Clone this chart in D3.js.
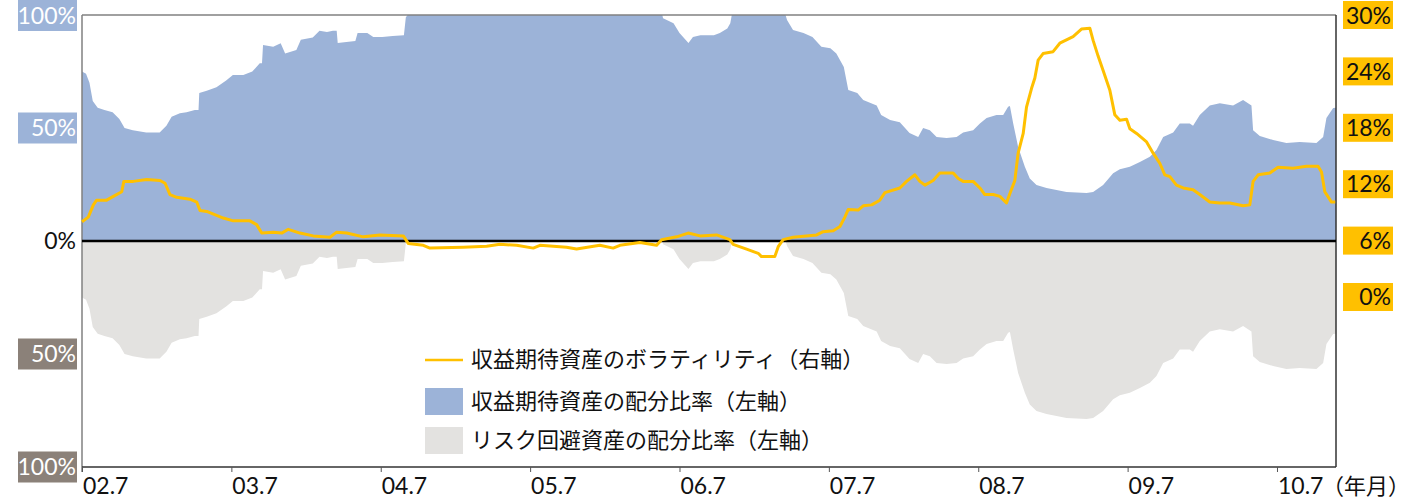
<!DOCTYPE html>
<html><head><meta charset="utf-8">
<script src="https://cdn.jsdelivr.net/npm/d3@7"></script>
<style>body{margin:0;background:#fff}svg{display:block}text{font-family:"Noto Sans CJK JP","Noto Sans",sans-serif}text.num{font-family:Lato,"Noto Sans",sans-serif}</style>
</head><body><svg id="c" width="1427" height="500"></svg>
<script>
// ---- data ----
const allocYears = [2002.500,2002.527,2002.550,2002.572,2002.605,2002.650,2002.705,2002.750,2002.785,2002.840,2002.930,2003.020,2003.065,2003.100,2003.155,2003.200,2003.255,2003.280,2003.285,2003.335,2003.400,2003.465,2003.510,2003.580,2003.640,2003.690,2003.705,2003.712,2003.780,2003.830,2003.860,2003.935,2003.965,2004.045,2004.090,2004.140,2004.180,2004.205,2004.212,2004.270,2004.330,2004.345,2004.410,2004.450,2004.510,2004.580,2004.655,2004.668,2004.680,2006.385,2006.390,2006.460,2006.500,2006.560,2006.590,2006.640,2006.730,2006.770,2006.820,2006.840,2006.850,2007.210,2007.220,2007.260,2007.330,2007.390,2007.450,2007.510,2007.550,2007.600,2007.630,2007.690,2007.730,2007.820,2007.850,2007.910,2007.975,2008.040,2008.098,2008.131,2008.176,2008.221,2008.288,2008.355,2008.399,2008.466,2008.511,2008.556,2008.622,2008.667,2008.700,2008.712,2008.734,2008.767,2008.812,2008.845,2008.890,2008.957,2009.091,2009.225,2009.269,2009.336,2009.403,2009.448,2009.515,2009.582,2009.649,2009.693,2009.738,2009.805,2009.849,2009.916,2009.938,2009.983,2010.050,2010.117,2010.206,2010.273,2010.329,2010.340,2010.385,2010.474,2010.563,2010.652,2010.764,2010.809,2010.831,2010.876,2010.895];
const allocValues = [75,74,70,62,59,58,57,54,50,49,48,48,51,55,56.5,57,58,58,65.5,66.5,68,71,73.5,73.5,75,78.6,78.6,86.7,86,87.5,83,84.5,89,90,93,92.5,93,93,87.6,88,88.5,92,92,90.3,90.3,90.7,91,99,100,100,98.6,96.3,92,87.6,90.3,91,91,92,94,96.3,100,100,97.8,93.4,92,90.3,86,85.3,83,77,66.8,65.5,62.4,60,55.8,53.5,52.5,47.8,46,50,49,46,45.6,46,48,49,52,54.4,55.8,55.8,59.4,59.7,52,41.6,32.8,27.7,24.8,23.4,21.7,21.2,21.7,24.8,30,31.7,32.8,35,37.3,40.3,46,48,52,52,51,55.8,60,61,60,62.4,60,49,46.5,44.7,43.4,43.8,43.4,46,54.4,58.8,59];
const volYears = [2002.500,2002.542,2002.576,2002.598,2002.665,2002.710,2002.766,2002.780,2002.843,2002.933,2003.022,2003.056,2003.089,2003.134,2003.223,2003.268,2003.290,2003.335,2003.446,2003.513,2003.624,2003.669,2003.703,2003.781,2003.837,2003.881,2003.959,2004.048,2004.160,2004.205,2004.272,2004.383,2004.495,2004.651,2004.684,2004.785,2004.829,2005.052,2005.209,2005.298,2005.410,2005.521,2005.566,2005.744,2005.811,2005.967,2006.056,2006.101,2006.235,2006.347,2006.380,2006.481,2006.558,2006.637,2006.748,2006.837,2006.859,2006.949,2007.027,2007.049,2007.138,2007.161,2007.194,2007.261,2007.418,2007.462,2007.529,2007.574,2007.607,2007.629,2007.696,2007.730,2007.786,2007.841,2007.875,2007.975,2008.020,2008.076,2008.109,2008.143,2008.198,2008.243,2008.332,2008.366,2008.399,2008.466,2008.511,2008.544,2008.600,2008.645,2008.689,2008.712,2008.745,2008.767,2008.801,2008.823,2008.857,2008.879,2008.901,2008.934,2009.001,2009.046,2009.135,2009.191,2009.247,2009.269,2009.303,2009.336,2009.381,2009.414,2009.448,2009.493,2009.515,2009.560,2009.627,2009.671,2009.716,2009.749,2009.783,2009.827,2009.872,2009.938,2009.983,2010.050,2010.117,2010.184,2010.273,2010.318,2010.340,2010.374,2010.452,2010.507,2010.608,2010.697,2010.775,2010.798,2010.820,2010.865,2010.890];
const volValues = [8.0,8.5,9.8,10.3,10.3,10.7,11.2,12.3,12.3,12.5,12.4,12.1,10.9,10.6,10.4,10.1,9.2,9.1,8.4,8.1,8.1,7.7,6.8,6.9,6.8,7.2,6.8,6.5,6.35,6.9,6.8,6.4,6.6,6.5,5.7,5.5,5.2,5.3,5.4,5.6,5.5,5.2,5.5,5.3,5.1,5.5,5.2,5.5,5.8,5.5,6.1,6.4,6.8,6.5,6.6,6.1,5.6,5.1,4.65,4.3,4.3,5.35,6.1,6.35,6.6,6.95,7.05,7.5,8.5,9.3,9.25,9.7,9.8,10.3,11.1,11.6,12.3,13.0,12.3,11.9,12.4,13.2,13.2,12.6,12.3,12.3,11.6,10.9,10.9,10.7,10.0,11.0,12.4,15.3,17.4,20.2,22.2,23.3,25.2,25.9,26.1,27.0,27.7,28.5,28.6,27.3,25.6,24.1,22.0,19.4,18.8,18.9,17.9,17.4,16.5,15.3,14.2,13.0,12.8,11.9,11.6,11.4,10.9,10.1,10.0,10.0,9.7,9.8,12.3,13.0,13.2,13.8,13.7,13.9,13.9,13.3,11.2,10.1,10.1];
const xTickYears = [2002.5,2003.5,2004.5,2005.5,2006.5,2007.5,2008.5,2009.5,2010.5];
const xTickLabels = ["02.7","03.7","04.7","05.7","06.7","07.7","08.7","09.7","10.7"];
const leftTickValues = [100,50,0,-50,-100];
const leftTickLabels = ["100%","50%","0%","50%","100%"];
const rightTickValues = [30,24,18,12,6,0];
const rightTickLabels = ["30%","24%","18%","12%","6%","0%"];
const legendLabels = ["収益期待資産のボラティリティ（右軸）","収益期待資産の配分比率（左軸）","リスク回避資産の配分比率（左軸）"];

// ---- drawing ----
const C = {blue:"#9cb3d8", gray:"#e3e2e0", yellow:"#ffc000", lowBox:"#8b8179"};
const svg = d3.select("#c");
const L=82, R=1336, T=15, B=467;
const x = d3.scaleLinear().domain([2002.5, 2010.895]).range([L,R]);
const yL = d3.scaleLinear().domain([-100,100]).range([B,T]);
const yR = d3.scaleLinear().domain([0,30]).range([297,T]);

const alloc = allocYears.map((t,i)=>({t, a:allocValues[i]}));
const vol = volYears.map((t,i)=>({t, v:volValues[i]}));

svg.append("defs").append("clipPath").attr("id","clip")
  .append("rect").attr("x",L).attr("y",T).attr("width",R-L).attr("height",B-T);
const g = svg.append("g").attr("clip-path","url(#clip)");

g.append("path").datum(alloc).attr("fill",C.blue)
  .attr("d", d3.area().x(d=>x(d.t)).y0(yL(0)).y1(d=>yL(d.a)));
g.append("path").datum(alloc).attr("fill",C.gray)
  .attr("d", d3.area().x(d=>x(d.t)).y0(yL(0)).y1(d=>yL(-(100-d.a))));

// frame
svg.append("line").attr("x1",L).attr("x2",R).attr("y1",T).attr("y2",T).attr("stroke","#808080").attr("stroke-width",1.5);
svg.append("line").attr("x1",R).attr("x2",R).attr("y1",T).attr("y2",B).attr("stroke","#333").attr("stroke-width",1.5);
svg.append("line").attr("x1",L).attr("x2",L).attr("y1",T).attr("y2",B+5).attr("stroke","#808080").attr("stroke-width",1.5);
// bottom axis
const xa = svg.append("g").attr("transform",`translate(0,${B})`)
  .call(d3.axisBottom(x).tickValues(xTickYears).tickSize(5).tickFormat(""));
xa.select(".domain").attr("stroke","#333").attr("stroke-width",1.5).attr("d",`M${L},0H${R}`);
xa.selectAll(".tick line").attr("stroke","#555");
svg.selectAll(".xl").data(xTickYears).join("text").attr("class","xl num")
  .attr("x",d=>x(d)+1).attr("y",494).attr("font-size",23).attr("fill","#111")
  .text((d,i)=>xTickLabels[i]);
svg.append("text").attr("x",1322).attr("y",494).attr("font-size",22).attr("fill","#111").text("（年月）");

// zero line
svg.append("line").attr("x1",L).attr("x2",R).attr("y1",yL(0)).attr("y2",yL(0)).attr("stroke","#000").attr("stroke-width",2.5);

// volatility line
svg.append("path").datum(vol).attr("fill","none").attr("stroke",C.yellow).attr("stroke-width",3)
  .attr("stroke-linejoin","round")
  .attr("d", d3.line().x(d=>x(d.t)).y(d=>yR(d.v)));

// left labels
leftTickValues.forEach((v,i)=>{
  const y = yL(v);
  if (v!==0) {
    svg.append("rect").attr("x",18).attr("y",Math.max(0,y-15.5)).attr("width",59).attr("height",31)
      .attr("fill", v>0 ? C.blue : C.lowBox);
  }
  svg.append("text").attr("class","num").attr("x",76).attr("y",Math.max(y,16)).attr("dy","0.36em").attr("text-anchor","end")
    .attr("font-size",23).attr("fill", v===0 ? "#111" : "#fff").text(leftTickLabels[i]);
});
// right labels
rightTickValues.forEach((v,i)=>{
  const y = yR(v);
  svg.append("rect").attr("x",1343).attr("y",Math.max(0,y-14)).attr("width",50).attr("height",28).attr("fill",C.yellow);
  svg.append("text").attr("class","num").attr("x",1391).attr("y",Math.max(y,16)).attr("dy","0.36em").attr("text-anchor","end")
    .attr("font-size",23).attr("fill","#111").text(rightTickLabels[i]);
});

// legend
const lg = svg.append("g");
lg.append("line").attr("x1",425).attr("x2",463).attr("y1",360).attr("y2",360).attr("stroke",C.yellow).attr("stroke-width",2.5);
lg.append("rect").attr("x",425).attr("y",388).attr("width",38).attr("height",27).attr("fill",C.blue);
lg.append("rect").attr("x",425).attr("y",427).attr("width",38).attr("height",27).attr("fill",C.gray);
[359,401,440].forEach((y,i)=>{
  lg.append("text").attr("x",471).attr("y",y).attr("dy","0.36em").attr("font-size",22).attr("fill","#111").text(legendLabels[i]);
});
</script></body></html>
